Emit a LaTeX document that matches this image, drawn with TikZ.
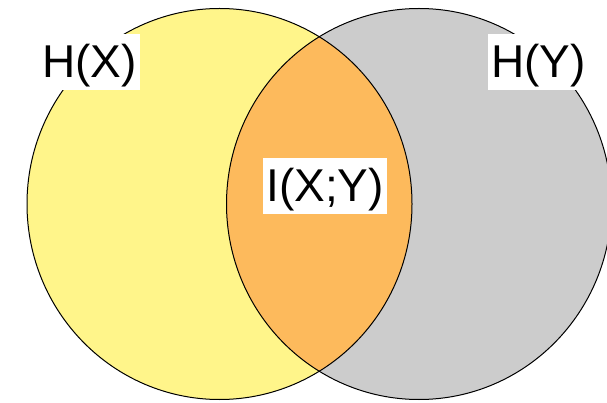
\documentclass[tikz,border=0pt]{standalone}
\usepackage{fontspec}
\setmainfont{Liberation Sans}
\usetikzlibrary{positioning}
\definecolor{setx}{HTML}{FFF58A}
\definecolor{sety}{HTML}{CCCCCC}
\definecolor{both}{HTML}{FDBA5C}

\begin{document}
\begin{tikzpicture}[x=1pt, y=-1pt,
    tag/.style={fill=white, font=\fontsize{46}{55}\selectfont, anchor=base, inner xsep=3pt, inner ysep=7pt, text height=37pt, text depth=5pt},
    outline/.style={draw=black, line width=1pt}
]
    \useasboundingbox (0,0) rectangle (607,403);
    \coordinate (cx) at (219.5,204);
    \coordinate (cy) at (419,204);

    % the two sets and their overlap
    \fill[setx] (cx) ellipse [x radius=192.5, y radius=195.5];
    \fill[sety] (cy) ellipse [x radius=192.5, y radius=195.5];
    \begin{scope}
        \clip (cx) ellipse [x radius=192.5, y radius=195.5];
        \fill[both] (cy) ellipse [x radius=192.5, y radius=195.5];
    \end{scope}
    \path[outline] (cx) ellipse [x radius=192.5, y radius=195.5];
    \path[outline] (cy) ellipse [x radius=192.5, y radius=195.5];

    \node[tag] (hx) at (89.5,78) {H(X)};
    \node[tag] (hy) at (538.5,78) {H(Y)};
    \node[tag] (ixy) at (325,202) {I(X;Y)};
\end{tikzpicture}
\end{document}
